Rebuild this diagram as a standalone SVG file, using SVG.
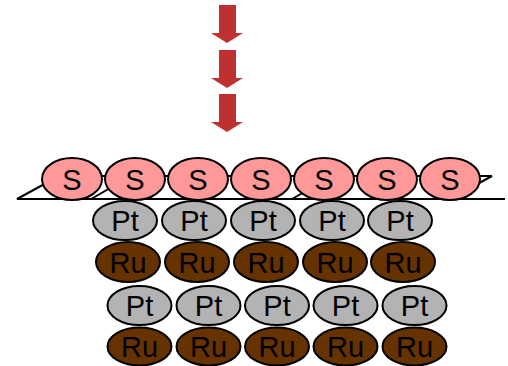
<svg xmlns="http://www.w3.org/2000/svg" width="508" height="366" viewBox="0 0 508 366">
<style>
.s{fill:#FF9999;stroke:#000;stroke-width:2}
.pt{fill:#B3B3B3;stroke:#000;stroke-width:2}
.ru{fill:#663300;stroke:#000;stroke-width:2}
.arr{fill:#BF3131}
.ln{fill:none;stroke:#000;stroke-width:2}
text{font-family:"Liberation Sans",Arial,sans-serif;font-size:29px;fill:#000;text-anchor:middle}
</style>
<defs>
<path id="arrow" d="M219,0 H236 V28 H243 L227,38 L211,28 H219 Z"/>
</defs>
<g id="arrows">
<use href="#arrow" class="arr" y="5"/>
<use href="#arrow" class="arr" y="50"/>
<use href="#arrow" class="arr" y="94"/>
</g>
<g id="surface">
<polygon points="17,199 59,176 492,176 450,199" fill="#fff" stroke="#000" stroke-width="2"/>
<line class="ln" x1="91" y1="199" x2="112" y2="187"/>
<line class="ln" x1="292" y1="199" x2="313" y2="187"/>
<line class="ln" x1="17" y1="199" x2="505" y2="199"/>
</g>
<g id="S-row">
<g id="s1"><ellipse class="s" cx="72" cy="179" rx="30" ry="21"/><text x="72" y="190">S</text></g>
<g id="s2"><ellipse class="s" cx="135" cy="179" rx="30" ry="21"/><text x="135" y="190">S</text></g>
<g id="s3"><ellipse class="s" cx="198" cy="179" rx="30" ry="21"/><text x="198" y="190">S</text></g>
<g id="s4"><ellipse class="s" cx="261" cy="179" rx="30" ry="21"/><text x="261" y="190">S</text></g>
<g id="s5"><ellipse class="s" cx="324" cy="179" rx="30" ry="21"/><text x="324" y="190">S</text></g>
<g id="s6"><ellipse class="s" cx="387" cy="179" rx="30" ry="21"/><text x="387" y="190">S</text></g>
<g id="s7"><ellipse class="s" cx="450" cy="179" rx="30" ry="21"/><text x="450" y="190">S</text></g>
</g>
<g id="Pt-row-1">
<g id="pt1a"><ellipse class="pt" cx="125" cy="220.5" rx="32" ry="19.5"/><text x="125" y="231">Pt</text></g>
<g id="pt1b"><ellipse class="pt" cx="194" cy="220.5" rx="32" ry="19.5"/><text x="194" y="231">Pt</text></g>
<g id="pt1c"><ellipse class="pt" cx="263" cy="220.5" rx="32" ry="19.5"/><text x="263" y="231">Pt</text></g>
<g id="pt1d"><ellipse class="pt" cx="332" cy="220.5" rx="32" ry="19.5"/><text x="332" y="231">Pt</text></g>
<g id="pt1e"><ellipse class="pt" cx="400" cy="220.5" rx="32" ry="19.5"/><text x="400" y="231">Pt</text></g>
</g>
<g id="Ru-row-1">
<g id="ru1a"><ellipse class="ru" cx="128" cy="262" rx="32" ry="20"/><text x="128" y="273">Ru</text></g>
<g id="ru1b"><ellipse class="ru" cx="197" cy="262" rx="32" ry="20"/><text x="197" y="273">Ru</text></g>
<g id="ru1c"><ellipse class="ru" cx="266" cy="262" rx="32" ry="20"/><text x="266" y="273">Ru</text></g>
<g id="ru1d"><ellipse class="ru" cx="335" cy="262" rx="32" ry="20"/><text x="335" y="273">Ru</text></g>
<g id="ru1e"><ellipse class="ru" cx="403" cy="262" rx="32" ry="20"/><text x="403" y="273">Ru</text></g>
</g>
<g id="Pt-row-2">
<g id="pt2a"><ellipse class="pt" cx="139.5" cy="305.5" rx="32" ry="19.5"/><text x="139.5" y="316">Pt</text></g>
<g id="pt2b"><ellipse class="pt" cx="208.5" cy="305.5" rx="32" ry="19.5"/><text x="208.5" y="316">Pt</text></g>
<g id="pt2c"><ellipse class="pt" cx="277" cy="305.5" rx="32" ry="19.5"/><text x="277" y="316">Pt</text></g>
<g id="pt2d"><ellipse class="pt" cx="345.5" cy="305.5" rx="32" ry="19.5"/><text x="345.5" y="316">Pt</text></g>
<g id="pt2e"><ellipse class="pt" cx="414.5" cy="305.5" rx="32" ry="19.5"/><text x="414.5" y="316">Pt</text></g>
</g>
<g id="Ru-row-2">
<g id="ru2a"><ellipse class="ru" cx="139.5" cy="346.5" rx="32" ry="19"/><text x="139.5" y="357">Ru</text></g>
<g id="ru2b"><ellipse class="ru" cx="208.5" cy="346.5" rx="32" ry="19"/><text x="208.5" y="357">Ru</text></g>
<g id="ru2c"><ellipse class="ru" cx="277" cy="346.5" rx="32" ry="19"/><text x="277" y="357">Ru</text></g>
<g id="ru2d"><ellipse class="ru" cx="345.5" cy="346.5" rx="32" ry="19"/><text x="345.5" y="357">Ru</text></g>
<g id="ru2e"><ellipse class="ru" cx="414.5" cy="346.5" rx="32" ry="19"/><text x="414.5" y="357">Ru</text></g>
</g>
</svg>
